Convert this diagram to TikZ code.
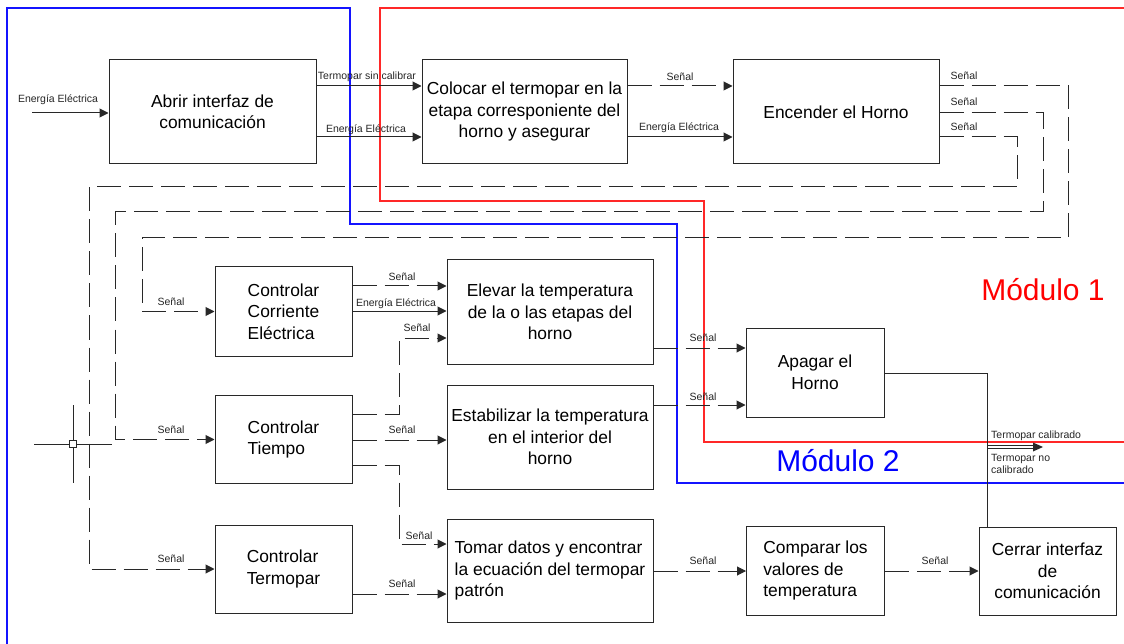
\documentclass[tikz,border=0pt]{standalone}
\usepackage{fontspec}
\setmainfont{Liberation Sans}
\usetikzlibrary{arrows.meta}
\definecolor{linec}{RGB}{40,40,40}
\definecolor{redline}{RGB}{255,40,40}
\definecolor{blueline}{RGB}{20,20,255}
\begin{document}
\begin{tikzpicture}[x=1pt,y=-1pt,
  box/.style={draw=linec, line width=1pt, inner sep=1.5pt,
    font=\fontsize{17.4}{21.5}\selectfont, align=center},
  boxl/.style={box, align=left},
  ln/.style={draw=linec, line width=1pt},
  pw/.style={ln, -{Triangle[length=9pt,width=9pt]}},
  sg/.style={pw, dash pattern=on 24pt off 8pt},
  lbl/.style={inner sep=0pt, font=\fontsize{10.5}{12}\selectfont, text=black!85},
  modlbl/.style={inner sep=0pt, font=\fontsize{30}{34}\selectfont},
  frame/.style={line width=1.1pt}
]
\useasboundingbox (0,0) rectangle (1124,644);

% module frames
\draw[frame, draw=blueline] (7,644) -- (7,8) -- (350,8) -- (350,224) -- (677,224) -- (677,483) -- (1124,483);
\draw[frame, draw=redline] (1124,8) -- (380,8) -- (380,201) -- (704,201) -- (704,442) -- (1124,442);
\node[modlbl, text=red] (m1) at (1043,290) {Módulo 1};
\node[modlbl, text=blue] (m2) at (838,461) {Módulo 2};

% boxes
\node[box, minimum width=207pt, minimum height=104pt] (b1) at (212.5,112) {Abrir interfaz de\\comunicación};
\node[box, minimum width=205pt, minimum height=104pt] (b2) at (524.5,112) {Colocar el termopar en la\\etapa corresponiente del\\horno y asegurar};
\node[box, minimum width=206pt, minimum height=104pt] (b3) at (836,112) {Encender el Horno};
\node[boxl, minimum width=137pt, minimum height=89pt] (b4) at (283.5,311.5) {Controlar\\Corriente\\Eléctrica};
\node[box, minimum width=206pt, minimum height=104pt] (b5) at (550,312) {Elevar la temperatura\\de la o las etapas del\\horno};
\node[box, minimum width=138pt, minimum height=89pt] (b6) at (815,372.5) {Apagar el\\Horno};
\node[boxl, minimum width=137pt, minimum height=88pt] (b7) at (283.5,439.5) {Controlar\\Tiempo};
\node[box, minimum width=206pt, minimum height=104pt] (b8) at (550,437) {Estabilizar la temperatura\\en el interior del\\horno};
\node[boxl, minimum width=137pt, minimum height=88pt] (b9) at (283.5,569) {Controlar\\Termopar};
\node[boxl, minimum width=206pt, minimum height=103pt] (b10) at (550,570.5) {Tomar datos y encontrar\\la ecuación del termopar\\patrón};
\node[boxl, minimum width=138pt, minimum height=89pt] (b11) at (815.5,570.5) {Comparar los\\valores de\\temperatura};
\node[box, minimum width=137pt, minimum height=88pt] (b12) at (1047.5,571) {Cerrar interfaz\\de\\comunicación};

% connectors
\coordinate (in1) at (32,113);
\draw[pw] (in1) -- (b1.west |- in1);
\draw[pw] (b1.east |- 0,86) -- (b2.west |- 0,86);
\draw[pw] (b1.east |- 0,137) -- (b2.west |- 0,137);
\draw[sg] (b2.east |- 0,86) -- (b3.west |- 0,86);
\draw[pw] (b2.east |- 0,137) -- (b3.west |- 0,137);

\draw[sg] (b3.east |- 0,86) -- (1068,86) -- (1068,238) -- (142,238) |- (b4.west);
\draw[sg] (b3.east |- 0,113) -- (1043,113) -- (1043,212) -- (115,212) |- (b7.west);
\draw[sg] (b3.east |- 0,137) -- (1017,137) -- (1017,187) -- (89,187) |- (b9.west);

\draw[sg] (b4.east |- 0,286) -- (b5.west |- 0,286);
\draw[pw] (b4.east |- 0,311) -- (b5.west |- 0,311);
\draw[sg] (b7.east |- 0,414) -- (399,414) |- (b5.west |- 0,338);
\draw[sg] (b7.east |- 0,440) -- (b8.west |- 0,440);
\draw[sg] (b7.east |- 0,465) -- (399,465) |- (b10.west |- 0,544);
\draw[sg] (b9.east |- 0,594) -- (b10.west |- 0,594);

\draw[sg] (b5.east |- 0,348) -- (b6.west |- 0,348);
\draw[sg] (b8.east |- 0,405) -- (b6.west |- 0,405);
\draw[sg] (b10.east |- 0,571) -- (b11.west |- 0,571);
\draw[sg] (b11.east |- 0,571) -- (b12.west |- 0,571);

\coordinate (j) at (987,373);
\coordinate (tc) at (1043,447);
\draw[ln] (b6.east |- j) -- (j) -- (j |- b12.north);
\draw[draw=linec, line width=0.9pt] (987,445.3) -- (1035,445.3);
\draw[draw=linec, line width=0.9pt] (987,448.7) -- (1035,448.7);
\fill[linec] (tc) -- (1033,442.5) -- (1033,451.5) -- cycle;

% crosshair marker
\coordinate (cx) at (73,444);
\draw[ln] (34,444) -- (112,444);
\draw[ln] (73,405) -- (73,483);
\node[draw=linec, fill=white, line width=0.8pt, minimum size=7pt, inner sep=0pt] (sq) at (cx) {};

% labels
\node[lbl] (l1) at (58,100) {Energía Eléctrica};
\node[lbl] (l2) at (367,77) {Termopar sin calibrar};
\node[lbl] (l3) at (366,130) {Energía Eléctrica};
\node[lbl] (l4) at (680,77) {Señal};
\node[lbl] (l5) at (679,128) {Energía Eléctrica};
\node[lbl] (l6) at (964,76) {Señal};
\node[lbl] (l7) at (964,102) {Señal};
\node[lbl] (l8) at (964,127) {Señal};
\node[lbl] (l9) at (171,302) {Señal};
\node[lbl] (l10) at (171,430) {Señal};
\node[lbl] (l11) at (171,559) {Señal};
\node[lbl] (l12) at (402,277) {Señal};
\node[lbl] (l13) at (396,304) {Energía Eléctrica};
\node[lbl] (l14) at (417,328) {Señal};
\node[lbl] (l15) at (402,430) {Señal};
\node[lbl] (l16) at (419,536) {Señal};
\node[lbl] (l17) at (402,584) {Señal};
\node[lbl] (l18) at (703,338) {Señal};
\node[lbl] (l19) at (703,397) {Señal};
\node[lbl] (l20) at (703,561) {Señal};
\node[lbl] (l21) at (935,561) {Señal};
\node[lbl, anchor=west] (l22) at (991,436) {Termopar calibrado};
\node[lbl, anchor=north west, align=left] (l23) at (991,454) {Termopar no\\calibrado};
\end{tikzpicture}
\end{document}
